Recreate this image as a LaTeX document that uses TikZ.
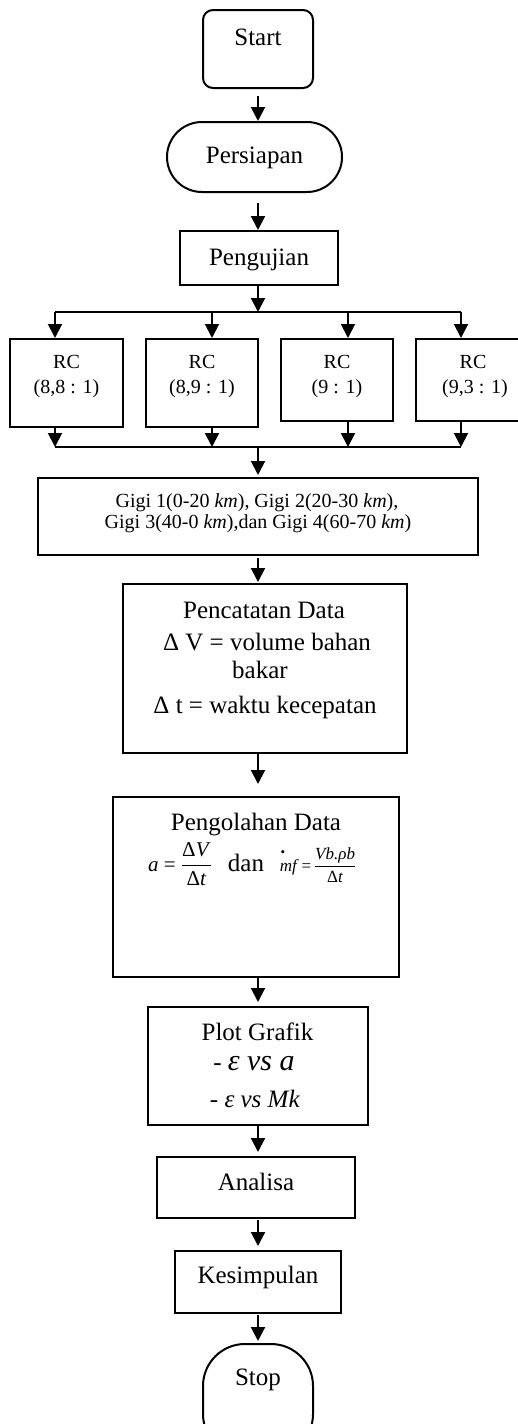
\documentclass[tikz,border=0pt]{standalone}
\usepackage{amsmath}
\usepackage{fontspec}
\setmainfont{Liberation Serif}
\usetikzlibrary{arrows.meta}
\begin{document}
\begin{tikzpicture}[x=1pt,y=-1pt]
\tikzset{
 box/.style={draw, line width=2pt, inner sep=0pt},
 arr/.style={line width=2pt, -{Triangle[width=14pt,length=14pt]}},
 ln/.style={line width=2pt},
 tx/.style={inner sep=0pt, anchor=base, font=\fontsize{25}{30}\selectfont},
 rct/.style={inner sep=0pt, anchor=base, font=\fontsize{20}{24}\selectfont},
}
\useasboundingbox (0,0) rectangle (518,1424);
\clip (0,0) rectangle (518,1424);
% boxes
\node[box, rounded corners=10pt, minimum width=110pt, minimum height=78pt] (start) at (258,49) {};
\node[box, rounded corners=35pt, minimum width=175pt, minimum height=70pt] (pers) at (254.5,157) {};
\node[box, minimum width=158pt, minimum height=54pt] (peng) at (259,258) {};
\node[box, minimum width=113pt, minimum height=88pt] (rc1) at (66.5,383) {};
\node[box, minimum width=112pt, minimum height=88pt] (rc2) at (202,383) {};
\node[box, minimum width=112pt, minimum height=82pt] (rc3) at (337,380) {};
\node[box, minimum width=114pt, minimum height=82pt] (rc4) at (473,380) {};
\node[box, minimum width=440pt, minimum height=77pt] (gigi) at (258,516.5) {};
\node[box, minimum width=284pt, minimum height=169pt] (penc) at (265,668.5) {};
\node[box, minimum width=286pt, minimum height=180pt] (pengo) at (256,887) {};
\node[box, minimum width=220pt, minimum height=118pt] (plot) at (258,1066) {};
\node[box, minimum width=198pt, minimum height=61pt] (anal) at (256,1187.5) {};
\node[box, minimum width=166pt, minimum height=62pt] (kes) at (258,1282) {};
\node[box, rounded corners=42pt, minimum width=110pt, minimum height=112pt] (stop) at (258,1400) {};
% texts
\node[tx] (tstart) at (258,45) {Start};
\node[tx] (tpers) at (254.5,163) {Persiapan};
\node[tx] (tpeng) at (259,265) {Pengujian};
\node[rct] (trc1a) at (66.5,368) {RC};
\node[rct] (trc1b) at (66.5,393) {(8,8 : 1)};
\node[rct] (trc2a) at (202,368) {RC};
\node[rct] (trc2b) at (202,393) {(8,9 : 1)};
\node[rct] (trc3a) at (337,368) {RC};
\node[rct] (trc3b) at (337,393) {(9 : 1)};
\node[rct] (trc4a) at (473,368) {RC};
\node[rct] (trc4b) at (475,393) {(9,3 : 1)};
\node[rct] (tg1) at (257,507) {Gigi 1(0-20 \textit{km}), Gigi 2(20-30 \textit{km}),};
\node[rct] (tg2) at (258,528) {Gigi 3(40-0 \textit{km}),dan Gigi 4(60-70 \textit{km})};
\node[tx] (tp1) at (264,618) {Pencatatan Data};
\node[tx] (tp2) at (267,650) {Δ V = volume bahan};
\node[tx] (tp3) at (260,678) {bakar};
\node[tx] (tp4) at (265,713) {Δ t = waktu kecepatan};
\node[tx] (to1) at (256,830) {Pengolahan Data};
\node[tx] (to2a) at (180,871) {\fontsize{21}{22}\selectfont\textit{a} = $\dfrac{\text{Δ\textit{V}}}{\text{Δ\textit{t}}}$};
\node[tx] (to2b) at (246,871) {dan};
\node[tx] (to2c) at (318,871) {\fontsize{17}{18}\selectfont\textit{mf}\,=\,$\dfrac{\text{\textit{Vb.ρb}}}{\text{Δ\textit{t}}}$};
\node[inner sep=0pt, font=\fontsize{13}{13}\selectfont] (to2d) at (283,854) {•};
\node[tx] (tl1) at (257.5,1040) {Plot Grafik};
\node[tx] (tl2) at (254,1070) {-\ {\fontsize{30}{32}\selectfont\textit{ε vs a}}};
\node[tx] (tl3) at (255,1107) {- \textit{ε vs Mk}};
\node[tx] (tan) at (256,1190) {Analisa};
\node[tx] (tks) at (258,1283) {Kesimpulan};
\node[tx] (tst) at (258,1385) {Stop};
% helper coordinates
\coordinate (col) at (258,0);
\coordinate (split) at (258,312);
\coordinate (merge) at (258,447);
\coordinate (b1) at (55,312);
\coordinate (b2) at (212,312);
\coordinate (b3) at (348,312);
\coordinate (b4) at (461,312);
\coordinate (m1) at (55,447);
\coordinate (m2) at (212,447);
\coordinate (m3) at (348,447);
\coordinate (m4) at (461,447);
% connectors
\draw[arr, shorten <=7pt] (start.south -| col) -- (pers.north -| col);
\draw[arr, shorten <=10pt] (pers.south -| col) -- (peng.north -| col);
\draw[arr] (peng.south -| split) -- (split);
\draw[ln] (b1) -- (b4);
\draw[arr] (b1) -- (b1 |- rc1.north);
\draw[arr] (b2) -- (b2 |- rc2.north);
\draw[arr] (b3) -- (b3 |- rc3.north);
\draw[arr] (b4) -- (b4 |- rc4.north);
\draw[arr] (rc1.south -| m1) -- (m1);
\draw[arr] (rc2.south -| m2) -- (m2);
\draw[arr] (rc3.south -| m3) -- (m3);
\draw[arr] (rc4.south -| m4) -- (m4);
\draw[ln] (m1) -- (m4);
\draw[arr, shorten >=2pt] (merge) -- (gigi.north -| merge);
\draw[arr, shorten <=2pt, shorten >=1pt] (gigi.south -| col) -- (penc.north -| col);
\draw[arr, shorten >=12pt] (penc.south -| col) -- (pengo.north -| col);
\draw[arr, shorten >=4pt] (pengo.south -| col) -- (plot.north -| col);
\draw[arr, shorten >=4pt] (plot.south -| col) -- (anal.north -| col);
\draw[arr, shorten <=1pt, shorten >=4pt] (anal.south -| col) -- (kes.north -| col);
\draw[arr, shorten <=1pt, shorten >=2pt] (kes.south -| col) -- (stop.north -| col);
\end{tikzpicture}
\end{document}
